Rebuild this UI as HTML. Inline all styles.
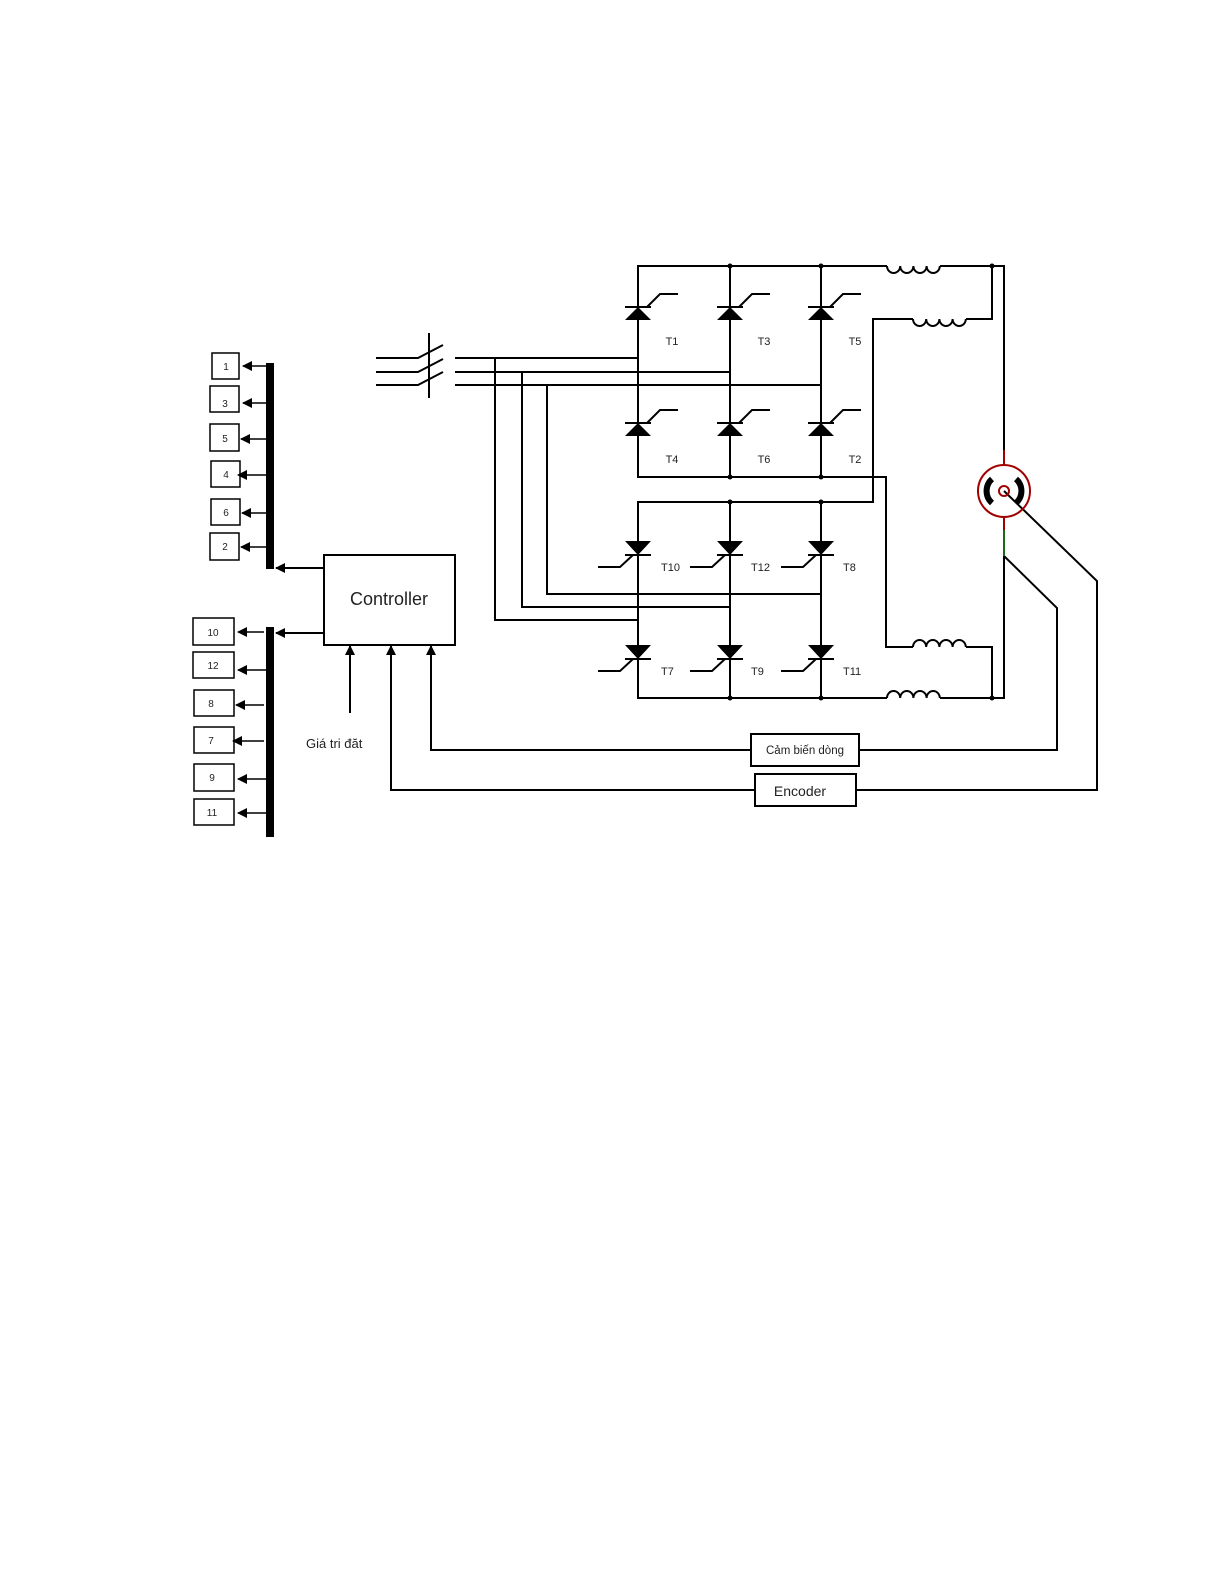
<!DOCTYPE html>
<html><head><meta charset="utf-8"><style>
html,body{margin:0;padding:0;background:#fff;}
svg{display:block;}
text{font-family:"Liberation Sans",sans-serif;fill:#222;}
</style></head><body>
<svg width="1225" height="1585" viewBox="0 0 1225 1585" xmlns="http://www.w3.org/2000/svg">
<defs>
<marker id="ah" markerWidth="10" markerHeight="10" refX="9" refY="5" orient="auto" markerUnits="userSpaceOnUse">
<path d="M0,0 L10,5 L0,10 z" fill="#000"/></marker>
<g id="tu"><!-- thyristor up (upper bridge) -->
<line x1="-13" y1="0" x2="13" y2="0" stroke="#000" stroke-width="2"/>
<path d="M-13,13 L13,13 L0,0 z" fill="#000"/>
<polyline points="9,0 22,-13 40,-13" fill="none" stroke="#000" stroke-width="2"/>
</g>
<g id="td"><!-- thyristor down (lower bridge) -->
<line x1="-13" y1="0" x2="13" y2="0" stroke="#000" stroke-width="2"/>
<path d="M-13,-14 L13,-14 L0,0 z" fill="#000"/>
<polyline points="-5,0 -18,12 -40,12" fill="none" stroke="#000" stroke-width="2"/>
</g>
</defs>
<g stroke="#000" stroke-width="2" fill="none">
<!-- switch -->
<line x1="429" y1="333" x2="429" y2="398"/>
<polyline points="376,358 418,358 443,345"/>
<polyline points="376,372 418,372 443,359"/>
<polyline points="376,385 418,385 443,372"/>
<!-- phase lines -->
<line x1="455" y1="358" x2="638" y2="358"/>
<line x1="455" y1="372" x2="730" y2="372"/>
<line x1="455" y1="385" x2="821" y2="385"/>
<polyline points="495,358 495,620 638,620"/>
<polyline points="522,372 522,607 730,607"/>
<polyline points="547,385 547,594 821,594"/>
<!-- upper bridge -->
<polyline points="887,266 638,266 638,477 886,477 886,647 913,647"/>
<line x1="730" y1="266" x2="730" y2="477"/>
<line x1="821" y1="266" x2="821" y2="477"/>
<polyline points="940,266 1004,266 1004,464"/>
<polyline points="913,319 873,319 873,502 638,502 638,698 887,698"/>
<line x1="730" y1="502" x2="730" y2="698"/>
<line x1="821" y1="502" x2="821" y2="698"/>
<polyline points="940,698 1004,698 1004,556"/>
<polyline points="966,319 992,319 992,266"/>
<polyline points="966,647 992,647 992,698"/>
<!-- inductors -->
<path d="M887,266 a6.6,7 0 0 0 13.2,0 a6.6,7 0 0 0 13.2,0 a6.6,7 0 0 0 13.2,0 a6.6,7 0 0 0 13.2,0"/>
<path d="M913,319 a6.6,7 0 0 0 13.2,0 a6.6,7 0 0 0 13.2,0 a6.6,7 0 0 0 13.2,0 a6.6,7 0 0 0 13.2,0"/>
<path d="M913,647 a6.6,7 0 0 1 13.2,0 a6.6,7 0 0 1 13.2,0 a6.6,7 0 0 1 13.2,0 a6.6,7 0 0 1 13.2,0"/>
<path d="M887,698 a6.6,7 0 0 1 13.2,0 a6.6,7 0 0 1 13.2,0 a6.6,7 0 0 1 13.2,0 a6.6,7 0 0 1 13.2,0"/>
<!-- feedback wires -->
<polyline points="1004,491 1097,581 1097,790 856,790"/>
<polyline points="1004,556 1057,608 1057,750 859,750"/>
<polyline points="751,750 431,750 431,646" marker-end="url(#ah)"/>
<polyline points="755,790 391,790 391,646" marker-end="url(#ah)"/>
<line x1="350" y1="713" x2="350" y2="646" marker-end="url(#ah)"/>
<!-- boxes -->
<rect x="751" y="734" width="108" height="32"/>
<rect x="755" y="774" width="101" height="32"/>
<rect x="324" y="555" width="131" height="90"/>
<!-- controller to buses -->
<line x1="324" y1="568" x2="276" y2="568" marker-end="url(#ah)"/>
<line x1="324" y1="633" x2="276" y2="633" marker-end="url(#ah)"/>
</g>
<!-- motor -->
<g fill="none">
<line x1="1004" y1="450" x2="1004" y2="464" stroke="#a00000" stroke-width="2"/>
<line x1="1004" y1="518" x2="1004" y2="530" stroke="#a00000" stroke-width="2"/>
<line x1="1004" y1="530" x2="1004" y2="556" stroke="#1a6a1a" stroke-width="2"/>
<circle cx="1004" cy="491" r="26" stroke="#a00000" stroke-width="2"/>
<circle cx="1004" cy="491" r="5" stroke="#a00000" stroke-width="2"/>
<path d="M992,479 A16,16 0 0 0 992,503" stroke="#000" stroke-width="6"/>
<path d="M1016,479 A16,16 0 0 1 1016,503" stroke="#000" stroke-width="6"/>
</g>
<!-- dots -->
<g fill="#000">
<circle cx="730" cy="266" r="2.5"/><circle cx="821" cy="266" r="2.5"/>
<circle cx="730" cy="477" r="2.5"/><circle cx="821" cy="477" r="2.5"/>
<circle cx="730" cy="502" r="2.5"/><circle cx="821" cy="502" r="2.5"/>
<circle cx="730" cy="698" r="2.5"/><circle cx="821" cy="698" r="2.5"/>
<circle cx="992" cy="266" r="2.5"/><circle cx="992" cy="698" r="2.5"/>
</g>
<!-- thyristors -->
<use href="#tu" x="638" y="307"/><use href="#tu" x="730" y="307"/><use href="#tu" x="821" y="307"/>
<use href="#tu" x="638" y="423"/><use href="#tu" x="730" y="423"/><use href="#tu" x="821" y="423"/>
<use href="#td" x="638" y="555"/><use href="#td" x="730" y="555"/><use href="#td" x="821" y="555"/>
<use href="#td" x="638" y="659"/><use href="#td" x="730" y="659"/><use href="#td" x="821" y="659"/>
<g font-size="11" text-anchor="middle">
<text x="672" y="345">T1</text><text x="764" y="345">T3</text><text x="855" y="345">T5</text>
<text x="672" y="463">T4</text><text x="764" y="463">T6</text><text x="855" y="463">T2</text>
</g>
<g font-size="11">
<text x="661" y="571">T10</text><text x="751" y="571">T12</text><text x="843" y="571">T8</text>
<text x="661" y="675">T7</text><text x="751" y="675">T9</text><text x="843" y="675">T11</text>
</g>
<!-- buses -->
<rect x="266" y="363" width="8" height="206" fill="#000"/>
<rect x="266" y="627" width="8" height="210" fill="#000"/>
<g stroke="#000" stroke-width="1.5" fill="#fff">
<rect x="212" y="353" width="27" height="26"/>
<rect x="210" y="386" width="29" height="26"/>
<rect x="210" y="424" width="29" height="27"/>
<rect x="211" y="461" width="29" height="26"/>
<rect x="211" y="499" width="29" height="26"/>
<rect x="210" y="533" width="29" height="27"/>
<rect x="193" y="618" width="41" height="27"/>
<rect x="193" y="652" width="41" height="26"/>
<rect x="194" y="690" width="40" height="26"/>
<rect x="194" y="727" width="40" height="26"/>
<rect x="194" y="764" width="40" height="27"/>
<rect x="194" y="799" width="40" height="26"/>
</g>
<g stroke="#000" stroke-width="1.5">
<line x1="266" y1="366" x2="243" y2="366" marker-end="url(#ah)"/>
<line x1="266" y1="403" x2="243" y2="403" marker-end="url(#ah)"/>
<line x1="266" y1="439" x2="241" y2="439" marker-end="url(#ah)"/>
<line x1="266" y1="475" x2="238" y2="475" marker-end="url(#ah)"/>
<line x1="266" y1="513" x2="242" y2="513" marker-end="url(#ah)"/>
<line x1="266" y1="547" x2="241" y2="547" marker-end="url(#ah)"/>
<line x1="264" y1="632" x2="238" y2="632" marker-end="url(#ah)"/>
<line x1="266" y1="670" x2="238" y2="670" marker-end="url(#ah)"/>
<line x1="264" y1="705" x2="236" y2="705" marker-end="url(#ah)"/>
<line x1="264" y1="741" x2="233" y2="741" marker-end="url(#ah)"/>
<line x1="266" y1="779" x2="238" y2="779" marker-end="url(#ah)"/>
<line x1="266" y1="813" x2="238" y2="813" marker-end="url(#ah)"/>
</g>
<g font-size="10" text-anchor="middle">
<text x="226" y="370">1</text><text x="225" y="407">3</text><text x="225" y="442">5</text>
<text x="226" y="478">4</text><text x="226" y="516">6</text><text x="225" y="550">2</text>
<text x="213" y="636">10</text><text x="213" y="669">12</text><text x="211" y="707">8</text>
<text x="211" y="744">7</text><text x="212" y="781">9</text><text x="212" y="816">11</text>
</g>
<text x="389" y="605" font-size="18" text-anchor="middle">Controller</text>
<text x="306" y="748" font-size="13">Giá tri đăt</text>
<text x="805" y="754" font-size="11.5" text-anchor="middle">Cảm biến dòng</text>
<text x="800" y="796" font-size="14" text-anchor="middle">Encoder</text>
</svg>
</body></html>
